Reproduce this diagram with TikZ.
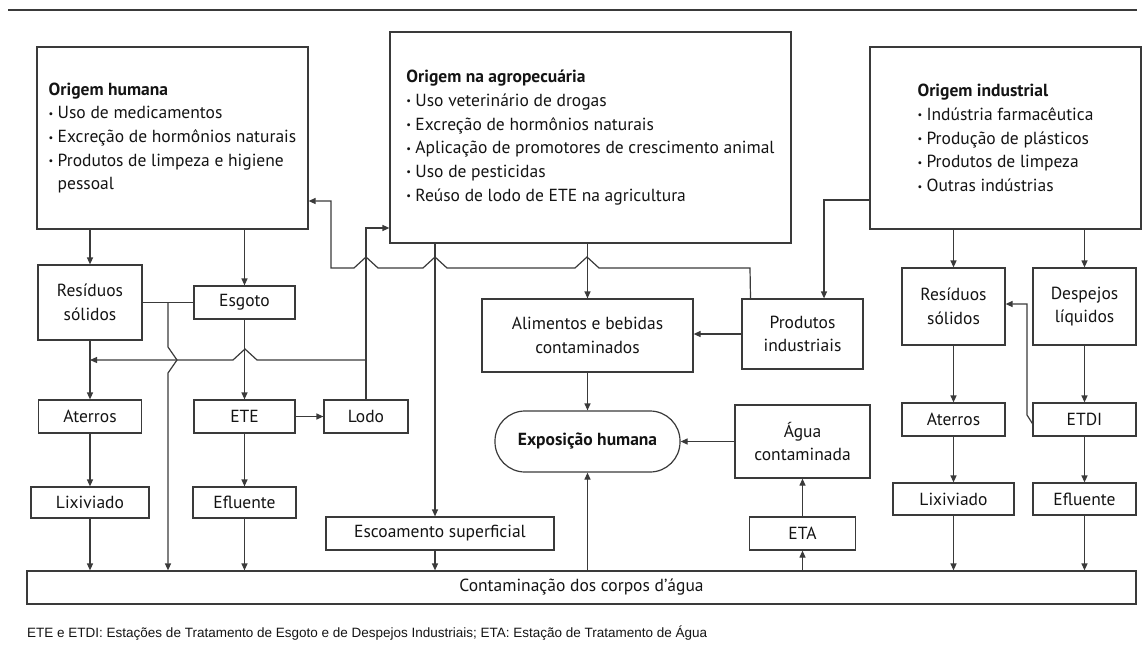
\documentclass[tikz,border=0pt]{standalone}
\usepackage{fontspec}
\setmainfont{PT Sans}
\newfontfamily\notefont{Liberation Sans}
\usepackage{graphicx}
\usetikzlibrary{arrows.meta, calc}
\definecolor{linegray}{HTML}{3A3A3A}
\newcommand{\itm}{\makebox[9pt][l]{\raisebox{1.5pt}{\scalebox{0.6}{•}}}}

\begin{document}
\begin{tikzpicture}[
      x=1pt, y=-1pt,
      every node/.style={font=\fontsize{17.5}{23.7}\selectfont, text=black!92},
      box/.style={draw=linegray, line width=1.2pt, inner sep=0pt, align=center},
      src/.style={box, align=left},
      arr/.style={draw=linegray, line width=1.2pt, -{Triangle[length=7pt,width=6pt]}},
      ln/.style={draw=linegray, line width=1.2pt},
    ]
    \useasboundingbox (0,0) rectangle (1147,648);
    \draw[ln, line width=1.4pt] (8,10) -- (1137,10);

    % origens
    \node[src, minimum width=271pt, minimum height=182pt] (oh) at (172.5,138)
      {\textbf{Origem humana}\\\itm Uso de medicamentos\\\itm Excreção de hormônios naturais\\\itm Produtos de limpeza e higiene\\\hspace*{9pt}pessoal};
    \node[src, minimum width=401pt, minimum height=211pt] (ag) at (590.5,137.5)
      {\textbf{Origem na agropecuária}\\\itm Uso veterinário de drogas\\\itm Excreção de hormônios naturais\\\itm Aplicação de promotores de crescimento animal\\\itm Uso de pesticidas\\\itm Reúso de lodo de ETE na agricultura};
    \node[src, minimum width=271pt, minimum height=182pt] (oi) at (1005.5,138)
      {\textbf{Origem industrial}\\\itm Indústria farmacêutica\\\itm Produção de plásticos\\\itm Produtos de limpeza\\\itm Outras indústrias};

    % lado esquerdo
    \node[box, minimum width=104pt, minimum height=75pt] (rs1) at (90,302.5) {Resíduos\\sólidos};
    \node[box, minimum width=101pt, minimum height=33pt] (esg) at (244.5,302.5) {Esgoto};
    \node[box, minimum width=103pt, minimum height=33pt] (at1) at (90,416.5) {Aterros};
    \node[box, minimum width=101pt, minimum height=33pt] (ete) at (244.5,416.5) {ETE};
    \node[box, minimum width=84pt, minimum height=33pt] (lodo) at (366,416.5) {Lodo};
    \node[box, minimum width=118pt, minimum height=31pt] (lx1) at (90,502.5) {Lixiviado};
    \node[box, minimum width=103pt, minimum height=31pt] (ef1) at (244.5,502.5) {Efluente};
    \node[box, minimum width=228pt, minimum height=33pt] (esc) at (440,533.5) {Escoamento superficial};

    % centro
    \node[box, minimum width=211pt, minimum height=73pt] (al) at (587.5,335.5) {Alimentos e bebidas\\contaminados};
    \node[box, minimum width=121pt, minimum height=70pt] (pi) at (802.5,334) {Produtos\\industriais};
    \node[box, rounded corners=30pt, minimum width=185pt, minimum height=61pt] (exp) at (587.5,441.5) {\textbf{Exposição humana}};
    \node[box, minimum width=135pt, minimum height=73pt] (agc) at (802.5,441.5) {Água\\contaminada};
    \node[box, minimum width=106pt, minimum height=33pt] (eta) at (802.5,533.5) {ETA};

    % lado direito
    \node[box, minimum width=103pt, minimum height=77pt] (rs2) at (953.5,306.5) {Resíduos\\sólidos};
    \node[box, minimum width=103pt, minimum height=77pt] (dl) at (1084.5,306.5) {Despejos\\líquidos};
    \node[box, minimum width=103pt, minimum height=33pt] (at2) at (953.5,419.5) {Aterros};
    \node[box, minimum width=103pt, minimum height=33pt] (etdi) at (1084.5,419.5) {ETDI};
    \node[box, minimum width=121pt, minimum height=32pt] (lx2) at (953.5,499) {Lixiviado};
    \node[box, minimum width=103pt, minimum height=32pt] (ef2) at (1084.5,499) {Efluente};

    \node[box, minimum width=1109pt, minimum height=33pt] (cont) at (581.5,587.5) {Contaminação dos corpos d’água};
    \node[anchor=west, inner sep=0pt, font=\notefont\fontsize{13.5}{15}\selectfont] (nota) at (27,633)
      {ETE e ETDI: Estações de Tratamento de Esgoto e de Despejos Industriais; ETA: Estação de Tratamento de Água};

    % esquerda
    \draw[arr] (rs1.north |- oh.south) -- (rs1.north);
    \draw[arr] (esg.north |- oh.south) -- (esg.north);
    \draw[ln] (rs1.east) -- (esg.west);
    \coordinate (j1) at (168,302.5);
    \draw[arr] (j1) -- (168,347) -- (177,360) -- (168,373) -- (168,0 |- cont.north);
    \draw[arr] (rs1.south) -- (at1.north);
    \draw[arr] (at1.south) -- (lx1.north);
    \draw[arr] (lx1.south) -- (lx1.south |- cont.north);
    \draw[arr] (esg.south) -- (ete.north);
    \draw[arr] (ete.south) -- (ef1.north);
    \draw[arr] (ef1.south) -- (ef1.south |- cont.north);
    \draw[arr] (ete.east) -- (lodo.west);
    \draw[arr] (lodo.north) -- (366,228) -- (ag.west |- 0,228);
    \draw[arr] (366,360) -- (257,360) -- (245,349) -- (233,360) -- (rs1.south |- 0,360);

    % produtos industriais -> origem humana
    \draw[arr] ([xshift=-52pt]pi.north) -- (750,268) -- (599,268) -- (587,257) -- (575,268)
      -- (447,268) -- (435,257) -- (423,268) -- (378,268) -- (366,257) -- (354,268)
      -- (331,268) -- (331,201) -- (oh.east |- 0,201);

    % centro
    \draw[arr] (ag.south -| 435,0) -- (435,0 |- esc.north);
    \draw[arr] (435,0 |- esc.south) -- (435,0 |- cont.north);
    \draw[arr] (ag.south -| al.north) -- (al.north);
    \draw[arr] (oi.west |- 0,200) -| ([xshift=21.5pt]pi.north);
    \draw[arr] (pi.west) -- (al.east |- pi.west);
    \draw[arr] (al.south) -- (exp.north);
    \draw[arr] (agc.west) -- (exp.east);
    \draw[arr] (eta.north) -- (agc.south);
    \draw[arr] (eta.south |- cont.north) -- (eta.south);
    \draw[arr] (exp.south |- cont.north) -- (exp.south);

    % direita
    \draw[arr] (rs2.north |- oi.south) -- (rs2.north);
    \draw[arr] (dl.north |- oi.south) -- (dl.north);
    \draw[arr] (rs2.south) -- (at2.north);
    \draw[arr] (at2.south) -- (lx2.north);
    \draw[arr] (lx2.south) -- (lx2.south |- cont.north);
    \draw[arr] (dl.south) -- (etdi.north);
    \draw[arr] (etdi.south) -- (ef2.north);
    \draw[arr] (ef2.south) -- (ef2.south |- cont.north);
    \draw[arr] ([yshift=-4pt]etdi.west) -- (1027,415) -- (1027,304) -- (rs2.east |- 0,304);
  \end{tikzpicture}
\end{document}
